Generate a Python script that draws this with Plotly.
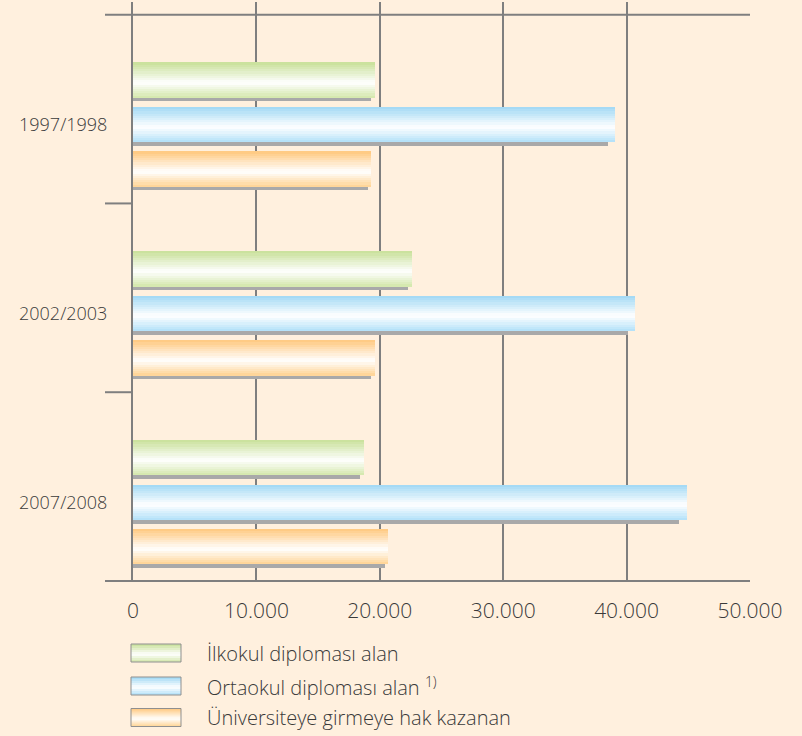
import plotly.graph_objects as go

# ---------------- data ----------------
years = ["1997/1998", "2002/2003", "2007/2008"]
ilkokul = [19600, 22600, 18700]
ortaokul = [39050, 40700, 44900]
universite = [19300, 19600, 20700]
series_names = ["İlkokul diploması alan",
                "Ortaokul diploması alan <sup>1)</sup>",
                "Üniversiteye girmeye hak kazanan"]
x_tickvals = [0, 10000, 20000, 30000, 40000, 50000]
x_ticktext = ["0", "10.000", "20.000", "30.000", "40.000", "50.000"]

# ---------------- style ----------------
BG = "#FFF0DE"
GRID = "#7f7f7f"
TXT = "#3a3a3a"
FONT = "Open Sans"
FW = 300
edge_colors = [("#C8E098", "#D3E7AA"),   # green
               ("#A0D8F4", "#B0E0F8"),   # blue
               ("#FFC87E", "#FFD392")]   # orange
SHADOW = "#A9A9A9"
centers = [-0.236, 0.0, 0.235]
W = 0.188
SHADOW_DY = 0.0185
SHADOW_K = 0.985
N = 16
WHITE_T = 0.57

L, R, T, B = 133, 52, 2, 155
WIDTH, HEIGHT = 802, 736
PW = WIDTH - L - R
PH = HEIGHT - T - B


def hex2rgb(h):
    h = h.lstrip("#")
    return tuple(int(h[i:i + 2], 16) for i in (0, 2, 4))


def mix(c1, c2, t):
    a, b = hex2rgb(c1), hex2rgb(c2)
    return "rgb(%d,%d,%d)" % tuple(round(a[i] + (b[i] - a[i]) * t) for i in range(3))


def grad(top, bot, t):
    if t < WHITE_T:
        return mix(top, "#FFFFFF", t / WHITE_T)
    return mix("#FFFFFF", bot, (t - WHITE_T) / (1 - WHITE_T))


def px_x(px):
    return (px - L) / PW


def px_y(py):
    return (HEIGHT - B - py) / PH


positions = list(range(len(years)))
all_series = [ilkokul, ortaokul, universite]

fig = go.Figure()

for s, vals in enumerate(all_series):
    top_c, bot_c = edge_colors[s]
    base = centers[s] - W / 2
    # shadow
    fig.add_trace(go.Bar(
        x=[v * SHADOW_K for v in vals], y=positions, orientation="h",
        offset=base + SHADOW_DY, width=W,
        marker=dict(color=SHADOW, line=dict(width=0)),
        hoverinfo="skip", showlegend=False))
    # gradient strips
    h = W / N
    for i in range(N):
        t = (i + 0.5) / N
        fig.add_trace(go.Bar(
            x=vals, y=positions, orientation="h",
            offset=base + i * h, width=W - i * h,
            marker=dict(color=grad(top_c, bot_c, t), line=dict(width=0)),
            hoverinfo="skip", showlegend=False,
            name=series_names[s]))

# frame lines / category ticks
boundaries = [p - 0.583 for p in positions]
shapes = []
lx0 = px_x(105)
shapes.append(dict(type="line", xref="paper", yref="y", x0=lx0, x1=1,
                   y0=boundaries[0], y1=boundaries[0],
                   line=dict(color=GRID, width=2)))
for bnd in boundaries[1:]:
    shapes.append(dict(type="line", xref="paper", yref="y", x0=lx0, x1=0,
                       y0=bnd, y1=bnd, line=dict(color=GRID, width=2)))
shapes.append(dict(type="line", xref="paper", yref="paper", x0=lx0, x1=1,
                   y0=0, y1=0, line=dict(color=GRID, width=2)))

# custom legend
annotations = []
box_tops = [644, 677, 708.5]
BOX_H = 18
bx0, bx1 = px_x(131), px_x(181)
M = 9
for s in range(3):
    top_c, bot_c = edge_colors[s]
    yt = box_tops[s]
    for i in range(M):
        t = (i + 0.5) / M
        shapes.append(dict(type="rect", xref="paper", yref="paper",
                           x0=bx0, x1=bx1,
                           y0=px_y(yt + i * BOX_H / M),
                           y1=px_y(yt + BOX_H),
                           fillcolor=grad(top_c, bot_c, t),
                           line=dict(width=0)))
    shapes.append(dict(type="rect", xref="paper", yref="paper",
                       x0=bx0, x1=bx1, y0=px_y(yt), y1=px_y(yt + BOX_H),
                       fillcolor="rgba(0,0,0,0)",
                       line=dict(color="#8f8f8f", width=1)))
    annotations.append(dict(xref="paper", yref="paper", x=px_x(205),
                            y=px_y(yt + BOX_H / 2), xanchor="left",
                            yanchor="middle", showarrow=False,
                            text=series_names[s],
                            font=dict(family=FONT, size=20, color=TXT,
                                      weight=FW)))

fig.update_layout(
    width=WIDTH, height=HEIGHT,
    margin=dict(l=L, r=R, t=T, b=B, pad=0),
    paper_bgcolor=BG, plot_bgcolor=BG,
    barmode="overlay", bargap=0,
    showlegend=False,
    shapes=shapes, annotations=annotations,
    xaxis=dict(range=[0, 50000], tickvals=x_tickvals, ticktext=x_ticktext,
               showgrid=True, gridcolor=GRID, gridwidth=2,
               zeroline=False, showline=False, ticks="",
               ticklabelstandoff=15,
               tickfont=dict(family=FONT, size=21, color=TXT, weight=FW)),
    yaxis=dict(range=[2.417, -0.65], tickvals=positions, ticktext=years,
               showgrid=False, zeroline=False, ticks="",
               showline=True, linecolor=GRID, linewidth=2,
               layer="above traces", ticklabelstandoff=20,
               tickfont=dict(family=FONT, size=18, color=TXT, weight=FW)),
)

fig.write_html("out.html",
               config={"displayModeBar": False},
               post_script="document.body.style.margin='0';"
                           "document.body.style.background='" + BG + "';")
